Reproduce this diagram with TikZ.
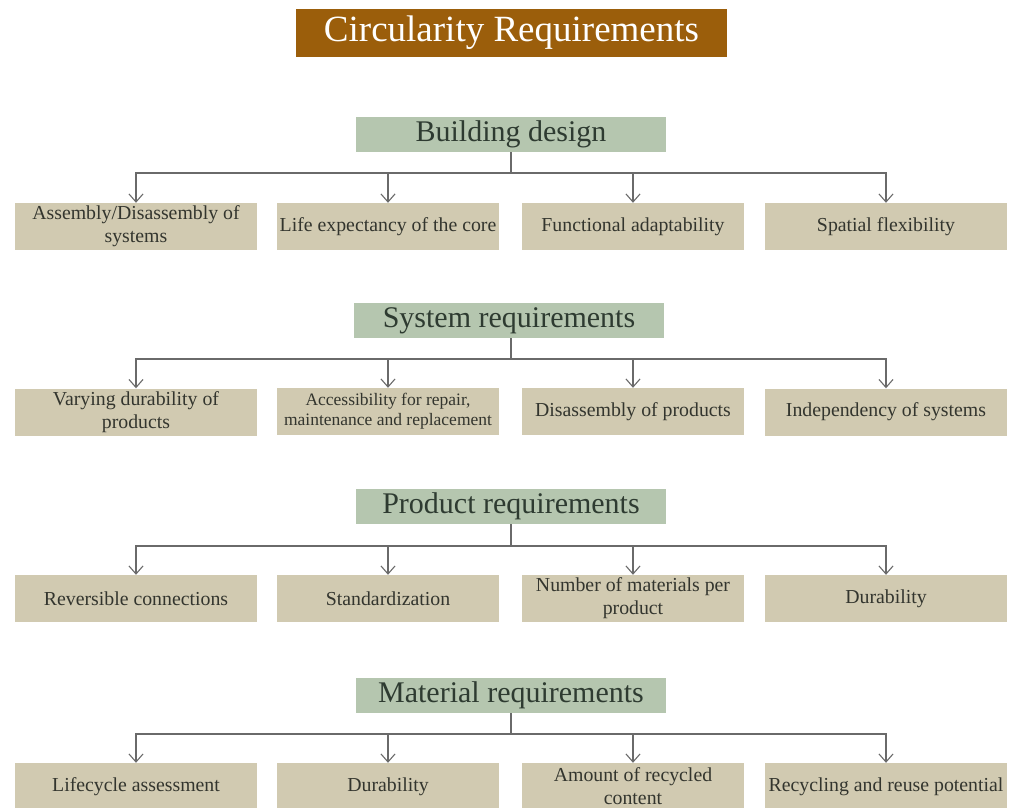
\documentclass[tikz,border=0pt]{standalone}
\usepackage{fontspec}
\setmainfont{Liberation Serif}
\usetikzlibrary{arrows.meta}
\definecolor{titlebrown}{HTML}{9B5E0B}
\definecolor{hdrgreen}{HTML}{B5C6AF}
\definecolor{hdrtext}{HTML}{2E3B31}
\definecolor{itemtan}{HTML}{D1CAB1}
\definecolor{itemtext}{HTML}{33352E}
\definecolor{linegray}{HTML}{6A6A6A}
\begin{document}
\begin{tikzpicture}[x=1pt,y=-1pt,
  titlebox/.style={fill=titlebrown, text=white, minimum width=431pt, minimum height=48pt, inner sep=0pt, font=\fontsize{37}{40}\selectfont},
  hdrbox/.style={fill=hdrgreen, text=hdrtext, minimum width=310pt, minimum height=35pt, inner sep=0pt, font=\fontsize{30}{32}\selectfont},
  itembox/.style={fill=itemtan, text=itemtext, minimum height=47pt, inner sep=0pt, align=center, font=\fontsize{19.8}{23}\selectfont},
  wideitem/.style={itembox, minimum width=242pt},
  narrowitem/.style={itembox, minimum width=222pt},
  link/.style={draw=linegray, line width=1.1pt},
  arr/.style={link, -{Straight Barb[length=8pt,width=14pt]}}
]
\useasboundingbox (0,0) rectangle (1015,807);
\fill[white] (0,0) rectangle (1015,807);

\node[titlebox] (title) at (511.5,33) {Circularity Requirements};

% Row 1
\node[hdrbox] (h1) at (511,134.5) {Building design};
\node[wideitem] (a1) at (136,226.5) {Assembly/Disassembly of\\systems};
\node[narrowitem] (a2) at (388,226.5) {Life expectancy of the core};
\node[narrowitem] (a3) at (633,226.5) {Functional adaptability};
\node[wideitem] (a4) at (886,226.5) {Spatial flexibility};
\coordinate (j1) at (511,173);

% Row 2
\node[hdrbox] (h2) at (509,320.5) {System requirements};
\node[wideitem] (b1) at (136,412) {Varying durability of\\products};
\node[narrowitem, font=\fontsize{17.5}{20}\selectfont] (b2) at (388,411.5) {Accessibility for repair,\\maintenance and replacement};
\node[narrowitem] (b3) at (633,411.5) {Disassembly of products};
\node[wideitem] (b4) at (886,412) {Independency of systems};
\coordinate (j2) at (511,359);

% Row 3
\node[hdrbox] (h3) at (511,506.5) {Product requirements};
\node[wideitem] (c1) at (136,598.5) {Reversible connections};
\node[narrowitem] (c2) at (388,598.5) {Standardization};
\node[narrowitem] (c3) at (633,598.5) {Number of materials per\\product};
\node[wideitem] (c4) at (886,598.5) {Durability};
\coordinate (j3) at (511,546);

% Row 4
\node[hdrbox] (h4) at (511,695.5) {Material requirements};
\node[wideitem] (d1) at (136,786.5) {Lifecycle assessment};
\node[narrowitem] (d2) at (388,786.5) {Durability};
\node[narrowitem] (d3) at (633,786.5) {Amount of recycled\\content};
\node[wideitem] (d4) at (886,786.5) {Recycling and reuse potential};
\coordinate (j4) at (511,734);

\foreach \h/\j/\p in {h1/j1/a, h2/j2/b, h3/j3/c, h4/j4/d}{
  \draw[link] (\h.south -| \j) -- (\j);
  \foreach \k in {1,2,3,4}{
    \draw[arr] (\j) -| (\p\k.north);
  }
}
\end{tikzpicture}
\end{document}
